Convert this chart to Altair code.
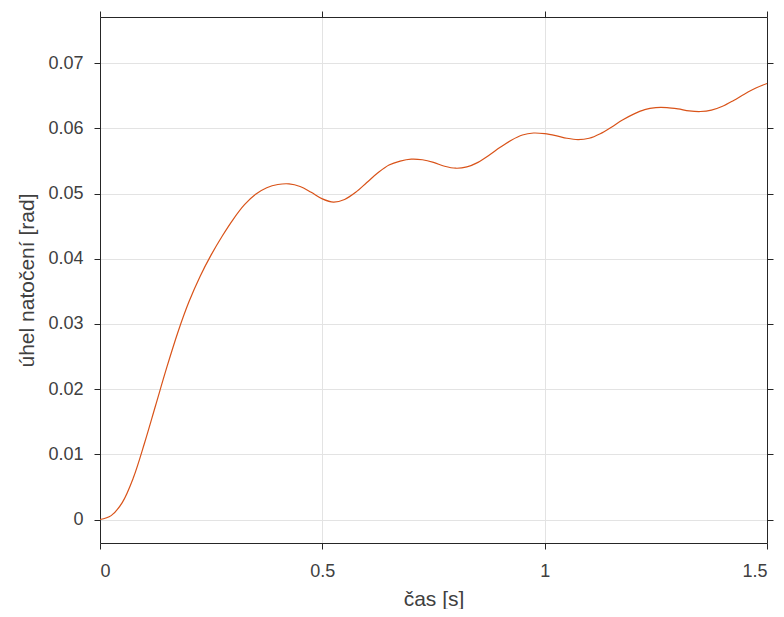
import altair as alt
import pandas as pd

# time [s]
t = [0, 0.025, 0.05, 0.075, 0.1, 0.125, 0.15, 0.175, 0.2, 0.225, 0.25, 0.275, 0.3,
     0.325, 0.35, 0.375, 0.4, 0.425, 0.45, 0.475, 0.5, 0.525, 0.55, 0.575, 0.6,
     0.625, 0.65, 0.675, 0.7, 0.725, 0.75, 0.775, 0.8, 0.825, 0.85, 0.875, 0.9,
     0.925, 0.95, 0.975, 1.0, 1.025, 1.05, 1.075, 1.1, 1.125, 1.15, 1.175, 1.2,
     1.225, 1.25, 1.275, 1.3, 1.325, 1.35, 1.375, 1.4, 1.425, 1.45, 1.475, 1.5]
# angle [rad]
uhel = [0, 0.0006, 0.0026, 0.0064, 0.0117, 0.0175, 0.0233, 0.0287, 0.0334, 0.0373,
        0.0406, 0.0435, 0.0461, 0.0483, 0.0499, 0.0509, 0.0514, 0.0515, 0.0511,
        0.0502, 0.0492, 0.0487, 0.0491, 0.0502, 0.0517, 0.0532, 0.0544, 0.0550,
        0.0553, 0.0552, 0.0548, 0.0542, 0.0539, 0.0541, 0.0548, 0.0559, 0.0571,
        0.0582, 0.0590, 0.0593, 0.0592, 0.0589, 0.0585, 0.0583, 0.0585, 0.0592,
        0.0602, 0.0613, 0.0622, 0.0629, 0.0632, 0.0632, 0.0630, 0.0627, 0.0626,
        0.0628, 0.0634, 0.0643, 0.0653, 0.0662, 0.0669]

x_ticks = [0, 0.5, 1, 1.5]
y_ticks = [0, 0.01, 0.02, 0.03, 0.04, 0.05, 0.06, 0.07]

df = pd.DataFrame({"t": t, "uhel": uhel})

FONT = "Liberation Sans"
AX = "#262626"
LAB = "#404040"

xs = alt.Scale(domain=[0, 1.5], nice=False, zero=False)
ys = alt.Scale(domain=[-0.0036, 0.0771], nice=False, zero=False)

common = dict(domainColor=AX, tickColor=AX, tickSize=6, domainWidth=1, tickWidth=1)

main = alt.Chart(df).mark_line(color="#D95319", strokeWidth=1.2, interpolate="catmull-rom").encode(
    x=alt.X("t:Q", scale=xs, title="čas [s]",
            axis=alt.Axis(values=x_ticks, format=".1~f", orient="bottom", grid=True,
                          gridColor="#e3e3e3", labelFont=FONT, labelFontSize=18,
                          labelColor=LAB, labelPadding=13, titleFont=FONT,
                          titleFontSize=21, titleFontWeight="normal", titleColor=LAB,
                          titlePadding=8, **common)),
    y=alt.Y("uhel:Q", scale=ys, title="úhel natočení [rad]",
            axis=alt.Axis(values=y_ticks, format=".2~f", orient="left", grid=True,
                          gridColor="#e3e3e3", labelFont=FONT, labelFontSize=18,
                          labelColor=LAB, labelPadding=11, titleFont=FONT,
                          titleFontSize=21, titleFontWeight="normal", titleColor=LAB,
                          titlePadding=10, **common)),
)

frame = alt.Chart(df).mark_line(opacity=0).encode(
    x=alt.X("t:Q", scale=xs, title=None,
            axis=alt.Axis(values=x_ticks, orient="top", labels=False, grid=False, **common)),
    y=alt.Y("uhel:Q", scale=ys, title=None,
            axis=alt.Axis(values=y_ticks, orient="right", labels=False, grid=False, **common)),
)

chart = alt.layer(main, frame).resolve_axis(x="independent", y="independent").properties(
    width=667, height=526,
    autosize=alt.AutoSizeParams(type="none"),
    padding={"left": 92, "top": 9, "right": 9, "bottom": 66},
).configure_view(stroke=None).configure(background="white")

chart.save("out.html", embed_options={"renderer": "svg", "actions": False})
